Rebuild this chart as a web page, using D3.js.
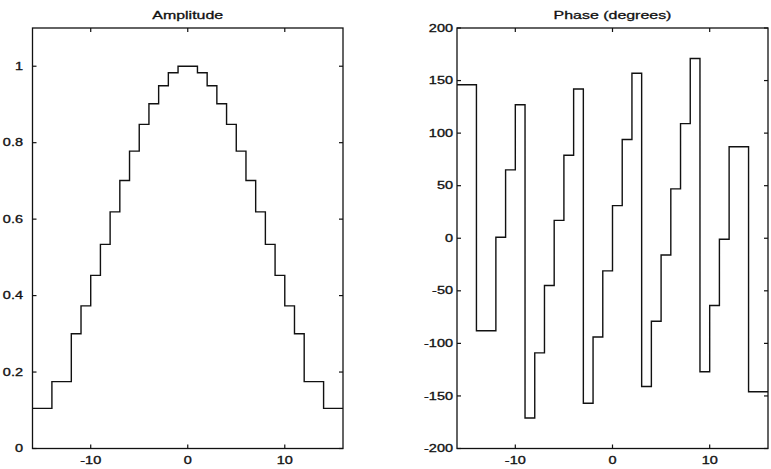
<!DOCTYPE html>
<html>
<head>
<meta charset="utf-8">
<script src="https://cdn.jsdelivr.net/npm/d3@7"></script>
<style>
  html, body { margin: 0; padding: 0; background: #fff; }
  svg { display: block; }
  text { font-family: "Liberation Sans", Arial, sans-serif; fill: #111; stroke: #111; stroke-width: 0.3; }
</style>
</head>
<body>
<svg id="chart" width="771" height="469"></svg>
<script>
// Step edges (frequency index) shared by both panels
const edges = [-16, -14, -12, -11, -10, -9, -8, -7, -6, -5, -4, -3, -2, -1, 0,
               1, 2, 3, 4, 5, 6, 7, 8, 9, 10, 11, 12, 14, 16];

// Amplitude of each step (value held from edge i to edge i+1)
const amplitude = [0.105, 0.175, 0.300, 0.373, 0.453, 0.534, 0.619, 0.701, 0.778,
                   0.848, 0.902, 0.949, 0.983, 1.000, 1.000, 0.983, 0.949, 0.902,
                   0.848, 0.778, 0.701, 0.619, 0.534, 0.453, 0.373, 0.300, 0.175, 0.105];

// Phase (degrees) of each step
const phase = [146, -88, 1, 65, 127, -171, -109, -45, 17, 79, 142, -157, -94, -31,
               31, 94, 157, -141, -79, -16, 47, 109, 171, -127, -64, -1, 87, -146];

const xTicks = [-10, 0, 10];
const ampTicks = [0, 0.2, 0.4, 0.6, 0.8, 1];
const ampTickLabels = ["0", "0.2", "0.4", "0.6", "0.8", "1"];
const phaseTicks = [-200, -150, -100, -50, 0, 50, 100, 150, 200];
const phaseTickLabels = ["-200", "-150", "-100", "-50", "0", "50", "100", "150", "200"];

const titles = ["Amplitude", "Phase (degrees)"];

const svg = d3.select("#chart");
const INK = "#111";
const SX = 1.45;   // horizontal stretch of the original typeface

function label(g, x, y, str, anchor, size) {
  g.append("text")
    .attr("transform", `translate(${x},${y}) scale(${SX},1)`)
    .attr("text-anchor", anchor)
    .attr("font-size", size)
    .text(str);
}

function panel(cfg) {
  const { left, right, top, bottom, yDomain, yTicks, yLabels, values, title, labelX } = cfg;
  const x = d3.scaleLinear().domain([-16, 16]).range([left, right]);
  const y = d3.scaleLinear().domain(yDomain).range([bottom, top]);
  const g = svg.append("g");

  // frame
  g.append("rect")
    .attr("x", left).attr("y", top)
    .attr("width", right - left).attr("height", bottom - top)
    .attr("fill", "none").attr("stroke", INK).attr("stroke-width", 1.3);

  const tl = 4;
  // y ticks (inward, both sides)
  yTicks.forEach((t, i) => {
    const yy = y(t);
    g.append("line").attr("x1", left).attr("x2", left + tl).attr("y1", yy).attr("y2", yy)
      .attr("stroke", INK).attr("stroke-width", 1.2);
    g.append("line").attr("x1", right).attr("x2", right - tl).attr("y1", yy).attr("y2", yy)
      .attr("stroke", INK).attr("stroke-width", 1.2);
    label(g, labelX, yy + 3.6, yLabels[i], "end", 10);
  });
  // x ticks (inward, top and bottom)
  xTicks.forEach(t => {
    const xx = x(t);
    g.append("line").attr("x1", xx).attr("x2", xx).attr("y1", bottom).attr("y2", bottom - tl)
      .attr("stroke", INK).attr("stroke-width", 1.2);
    g.append("line").attr("x1", xx).attr("x2", xx).attr("y1", top).attr("y2", top + tl)
      .attr("stroke", INK).attr("stroke-width", 1.2);
    label(g, xx, bottom + 15, String(t), "middle", 10);
  });

  // title
  label(g, (left + right) / 2, top - 9, title, "middle", 11);

  // stairs
  const pts = values.map((v, i) => [edges[i], v]);
  pts.push([edges[edges.length - 1], values[values.length - 1]]);
  const line = d3.line().x(d => x(d[0])).y(d => y(d[1])).curve(d3.curveStepAfter);
  g.append("path").attr("d", line(pts))
    .attr("fill", "none").attr("stroke", INK).attr("stroke-width", 1.4);
}

panel({ left: 32.5, right: 343, top: 28, bottom: 448.5, yDomain: [0, 1.1],
        yTicks: ampTicks, yLabels: ampTickLabels, values: amplitude, title: titles[0], labelX: 23 });
panel({ left: 457, right: 768, top: 28, bottom: 448.5, yDomain: [-200, 200],
        yTicks: phaseTicks, yLabels: phaseTickLabels, values: phase, title: titles[1], labelX: 453 });
</script>
</body>
</html>
